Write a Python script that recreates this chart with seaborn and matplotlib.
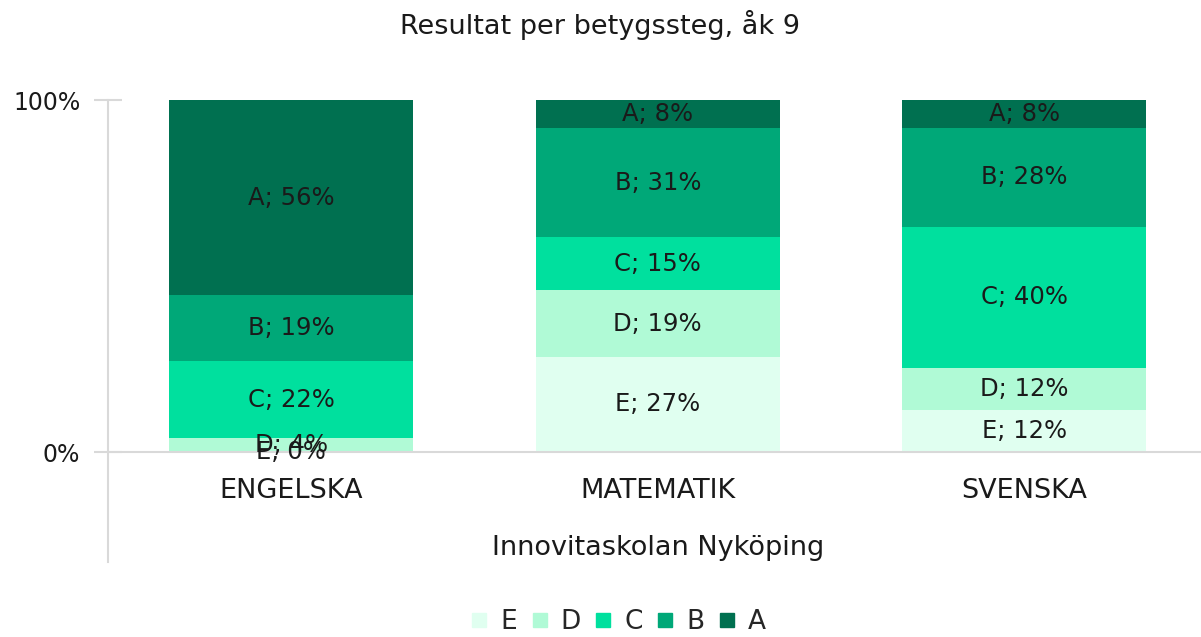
import numpy as np
import pandas as pd
import matplotlib
matplotlib.use("Agg")
import matplotlib.pyplot as plt
import seaborn as sb
from matplotlib.lines import Line2D

# data (percent per grade)
subjects = ["ENGELSKA", "MATEMATIK", "SVENSKA"]
grades = ["E", "D", "C", "B", "A"]
E = [0, 27, 12]
D = [4, 19, 12]
C = [22, 15, 40]
B = [19, 31, 28]
A = [56, 8, 8]
colors = {"E": "#E0FFF0", "D": "#B0FAD6", "C": "#00E09E", "B": "#00A878", "A": "#007050"}

sb.set_style("white")
plt.rcParams['font.family'] = ['DejaVu Sans']

df = pd.DataFrame({"Subject": subjects, "E": E, "D": D, "C": C, "B": B, "A": A})
# 100% stacked -> normalise each row
tot = df[grades].sum(axis=1)
for g in grades:
    df[g + "_pct"] = df[g] / tot * 100
cum = df[[g + "_pct" for g in grades]].cumsum(axis=1)
cum.columns = grades
cum["Subject"] = subjects

fig = plt.figure(figsize=(12.01, 6.37), dpi=100)
ax = fig.add_axes([108 / 1201, 1 - 562 / 637, 1 - 108 / 1201, (562 - 100) / 637])

# draw from top of stack downwards so lower segments sit on top
for g in reversed(grades):
    sb.barplot(data=cum, x="Subject", y=g, color=colors[g], width=0.666,
               saturation=1, ax=ax, linewidth=0)

txt = "#1a1a1a"
# segment labels
for i in range(len(subjects)):
    base = 0
    for g in grades:
        h = df.loc[i, g + "_pct"]
        ax.text(i, base + h / 2, f"{g}; {df.loc[i, g]}%", ha="center", va="center",
                fontsize=17.5, color=txt)
        base += h

ax.set_xlim(-0.5, 2.482)
ax.set_ylim(-31.25, 100)
ax.set_xticks([])
ax.set_yticks([0, 100])
ax.set_yticklabels(["0%", "100%"], fontsize=17, color=txt)
ax.tick_params(axis="y", direction="inout", length=20, width=1.5, color="#D9D9D9", pad=10, left=True)
for s in ["top", "right", "bottom"]:
    ax.spines[s].set_visible(False)
ax.spines["left"].set_color("#D9D9D9")
ax.spines["left"].set_linewidth(1.5)
ax.axhline(0, color="#D9D9D9", lw=1.5, clip_on=False)
ax.set_xlabel("")
ax.set_ylabel("")

for i, s in enumerate(subjects):
    ax.text(i, -11, s, ha="center", va="center", fontsize=19.5, color=txt)
ax.text(1, -27.3, "Innovitaskolan Nyköping", ha="center", va="center", fontsize=19.5, color=txt)

fig.text(0.5, 1 - 25 / 637, "Resultat per betygssteg, åk 9", ha="center", va="center",
         fontsize=19.5, color=txt)

handles = [Line2D([], [], marker="s", ls="", markersize=10, color=colors[g]) for g in grades]
fig.legend(handles, grades, loc="center", bbox_to_anchor=(0.513, 1 - 622 / 637), ncol=5,
           frameon=False, fontsize=19, handletextpad=0.3, columnspacing=0.35, handlelength=1.0)

plt.savefig("out.png", dpi=100)
